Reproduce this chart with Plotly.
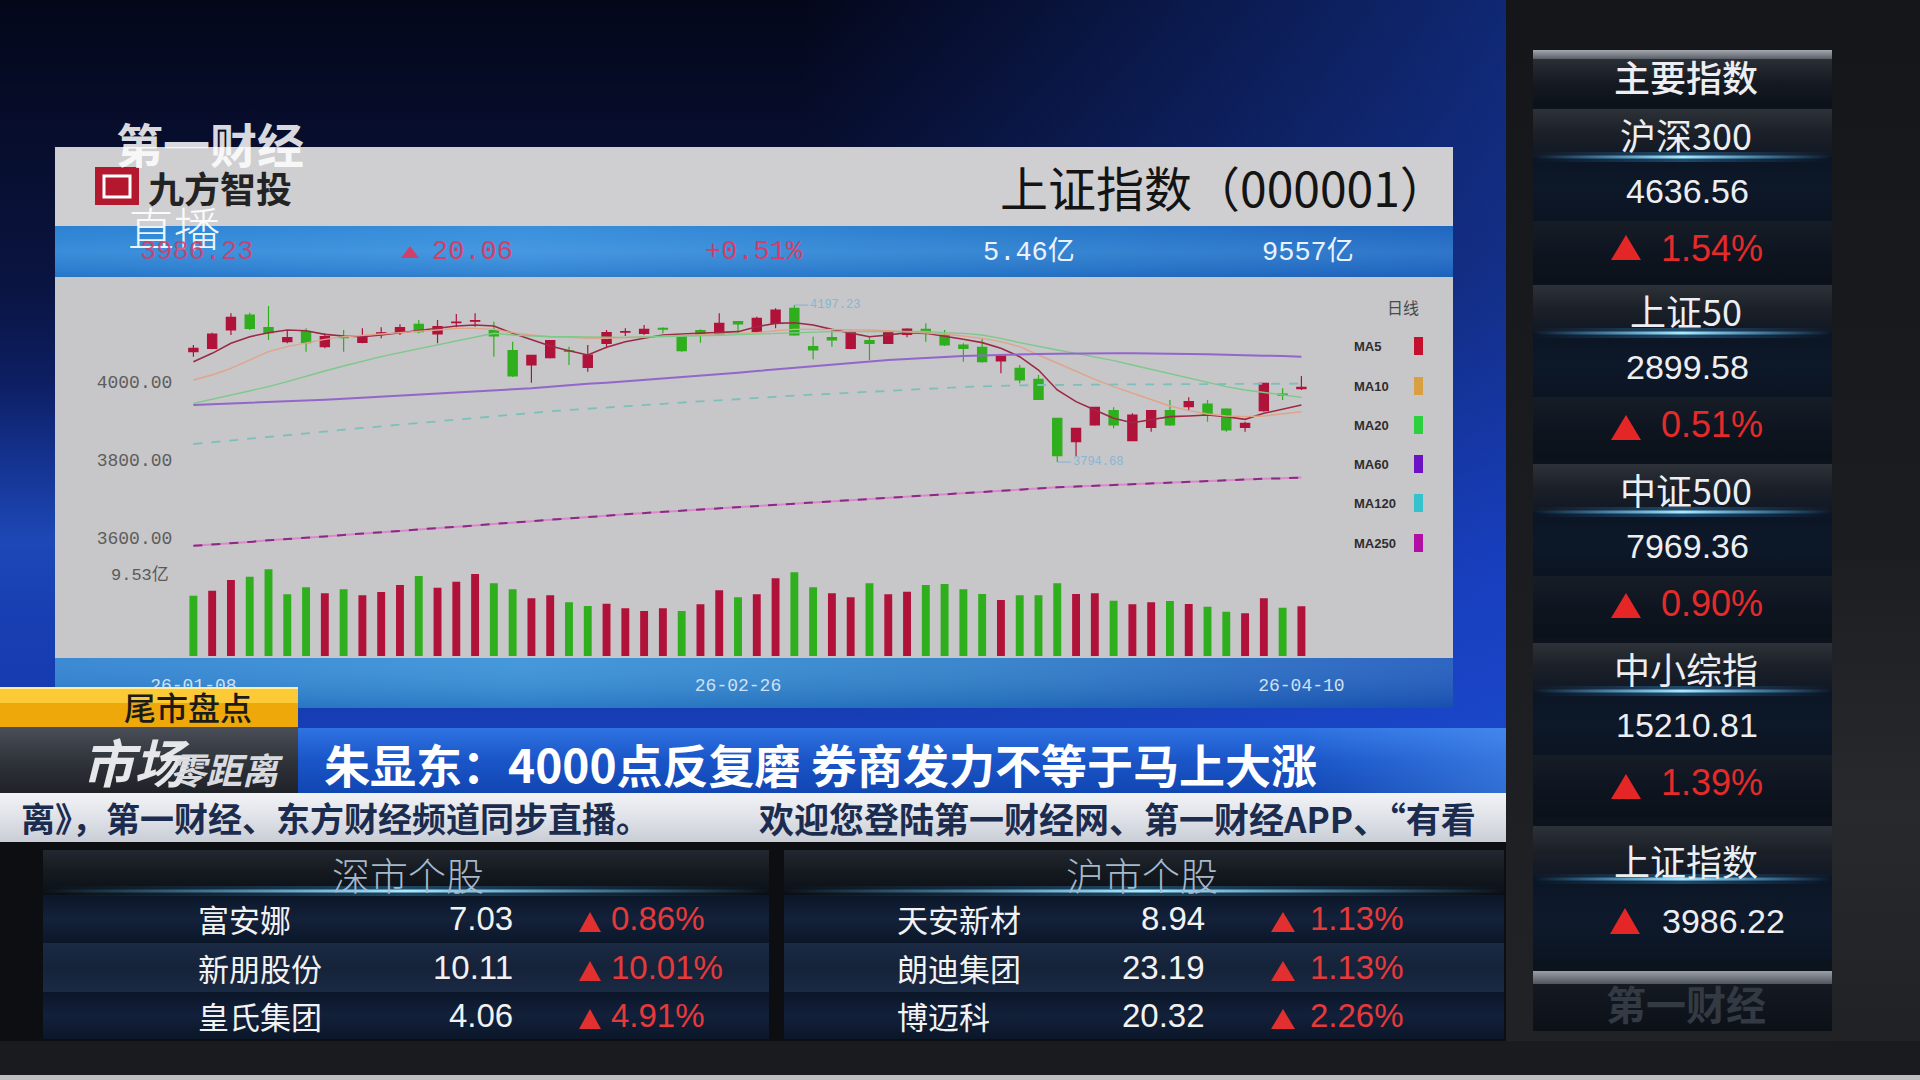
import plotly.graph_objects as go

W, H = 1920, 1080
CJK = "Noto Sans CJK SC"
SANS = "Liberation Sans, Noto Sans CJK SC"
MONO = "Liberation Mono, Noto Sans CJK SC"

# ---------------- daily K-line data: 上证指数 (000001) ----------------
day_idx = list(range(60))
date_ticks = [0, 29, 59]
date_labels = ["26-01-08", "26-02-26", "26-04-10"]

open_ = [4077.8, 4086.3, 4133.4, 4171.8, 4139.3, 4103.4, 4129.1, 4090.6, 4115.5, 4101.7,
         4124.0, 4127.4, 4147.9, 4123.1, 4152.0, 4156.0, 4131.6, 4080.3, 4043.6, 4062.4,
         4080.0, 4037.6, 4099.1, 4128.0, 4124.8, 4137.5, 4118.8, 4131.6, 4123.1, 4154.7,
         4129.1, 4150.4, 4188.9, 4090.6, 4113.7, 4086.3, 4106.0, 4099.1, 4122.2, 4135.0,
         4120.5, 4094.9, 4088.9, 4053.9, 4035.0, 4006.8, 3906.8, 3847.0, 3889.7, 3926.5,
         3849.6, 3883.8, 3926.5, 3936.8, 3943.6, 3930.8, 3883.8, 3926.5, 3969.2, 3983.0]
high = [4094.9, 4126.0, 4176.1, 4177.8, 4194.9, 4133.4, 4137.6, 4124.8, 4133.4, 4137.6,
        4140.2, 4147.9, 4159.0, 4159.0, 4174.4, 4176.1, 4154.7, 4103.4, 4069.5, 4108.0,
        4090.6, 4094.9, 4133.4, 4137.6, 4146.2, 4140.2, 4123.1, 4135.0, 4176.1, 4155.5,
        4167.5, 4188.9, 4197.23, 4116.2, 4135.0, 4131.6, 4116.2, 4129.1, 4137.6, 4150.4,
        4133.4, 4099.1, 4112.0, 4069.2, 4043.6, 4017.9, 3907.0, 3882.0, 3936.8, 3935.0,
        3919.6, 3927.5, 3953.9, 3960.7, 3953.9, 3932.5, 3898.3, 3998.3, 3983.8, 4015.4]
low = [4065.0, 4084.0, 4120.5, 4133.4, 4107.7, 4099.1, 4077.8, 4086.3, 4077.8, 4099.1,
       4112.0, 4120.5, 4124.8, 4099.1, 4140.2, 4141.9, 4065.0, 4013.0, 3998.3, 4060.0,
       4043.6, 4026.5, 4086.3, 4118.0, 4120.5, 4124.8, 4077.8, 4100.8, 4120.5, 4124.8,
       4126.5, 4137.6, 4118.8, 4058.1, 4090.6, 4083.8, 4056.4, 4097.4, 4114.5, 4103.4,
       4092.3, 4052.1, 4049.6, 4022.2, 3996.6, 3954.0, 3794.68, 3808.6, 3888.0, 3881.2,
       3848.0, 3872.7, 3887.2, 3928.2, 3898.3, 3872.7, 3872.7, 3924.0, 3953.9, 3979.5]
close = [4086.3, 4123.1, 4165.8, 4137.6, 4126.5, 4113.7, 4100.9, 4116.2, 4114.0, 4117.9,
         4126.0, 4139.3, 4129.1, 4141.9, 4153.5, 4157.6, 4117.9, 4015.4, 4068.4, 4106.0,
         4078.5, 4069.2, 4126.5, 4129.5, 4135.0, 4135.8, 4080.3, 4120.5, 4150.4, 4148.7,
         4163.3, 4184.6, 4120.5, 4082.1, 4107.7, 4129.1, 4099.1, 4126.5, 4135.9, 4124.8,
         4094.9, 4086.3, 4052.1, 4066.7, 4005.1, 3955.6, 3811.1, 3881.2, 3935.0, 3889.7,
         3915.4, 3926.5, 3889.7, 3949.6, 3915.4, 3876.9, 3894.1, 3996.6, 3966.17, 3986.23]
prev_close = 4090.0  # close of the session before the first bar

volume = [6.63, 7.18, 8.35, 8.72, 9.53, 6.78, 7.55, 6.89, 7.33, 6.67,
          7.03, 7.80, 8.79, 7.51, 8.17, 9.01, 7.99, 7.33, 6.34, 6.67,
          5.90, 5.49, 5.75, 5.24, 4.95, 5.24, 4.95, 5.68, 7.22, 6.45,
          6.78, 8.54, 9.20, 7.55, 6.89, 6.45, 7.99, 6.78, 7.07, 7.80,
          7.91, 7.33, 6.81, 6.15, 6.67, 6.67, 7.99, 6.81, 6.89, 6.08,
          5.68, 5.90, 6.04, 5.71, 5.42, 4.87, 4.69, 6.34, 5.31, 5.46]

ma5 = [4052.1, 4073.5, 4099.2, 4116.2, 4126.5, 4133.3, 4131.6, 4122.2, 4118.0, 4116.2,
       4120.5, 4126.5, 4133.3, 4137.6, 4143.6, 4146.2, 4143.6, 4124.8, 4107.7, 4092.3,
       4080.3, 4069.2, 4088.9, 4103.4, 4112.0, 4120.5, 4123.1, 4124.8, 4126.5, 4129.1,
       4141.9, 4150.4, 4152.1, 4146.2, 4135.0, 4124.8, 4116.2, 4120.5, 4126.5, 4124.8,
       4118.0, 4109.4, 4100.9, 4086.3, 4065.0, 4030.8, 3979.5, 3949.6, 3928.2, 3906.8,
       3895.7, 3902.6, 3911.1, 3912.8, 3915.4, 3911.1, 3904.3, 3919.7, 3929.9, 3941.0]
ma10 = [4005.1, 4018.0, 4035.0, 4056.4, 4077.8, 4090.6, 4100.9, 4109.4, 4116.2, 4120.5,
        4123.1, 4126.5, 4129.1, 4133.3, 4137.6, 4137.6, 4135.0, 4126.5, 4120.5, 4116.2,
        4114.5, 4112.0, 4112.0, 4113.7, 4116.2, 4118.0, 4120.5, 4120.5, 4123.1, 4124.8,
        4126.5, 4131.6, 4135.0, 4135.0, 4135.0, 4135.0, 4133.3, 4131.6, 4129.1, 4126.5,
        4123.1, 4118.0, 4112.0, 4103.4, 4090.6, 4069.2, 4047.9, 4026.5, 4006.8, 3988.0,
        3970.9, 3953.9, 3938.5, 3926.5, 3917.9, 3912.8, 3911.1, 3912.8, 3918.0, 3923.9]
ma20 = [3945.3, 3955.6, 3966.7, 3977.8, 3988.0, 4000.9, 4015.4, 4028.2, 4041.0, 4053.8,
        4065.0, 4075.2, 4085.5, 4094.9, 4106.0, 4114.5, 4124.8, 4120.5, 4118.0, 4116.2,
        4116.2, 4115.4, 4114.5, 4114.5, 4115.4, 4116.2, 4116.2, 4118.0, 4119.7, 4121.4,
        4123.1, 4124.8, 4126.5, 4128.2, 4129.1, 4129.1, 4129.1, 4129.9, 4129.9, 4129.9,
        4126.5, 4124.8, 4120.5, 4112.0, 4100.9, 4090.6, 4082.1, 4073.5, 4065.0, 4054.7,
        4043.6, 4032.5, 4020.5, 4009.4, 3998.3, 3988.0, 3979.5, 3972.6, 3966.7, 3960.7]
ma60 = [3941.0, 3942.7, 3944.4, 3946.2, 3947.9, 3950.4, 3952.1, 3954.7, 3957.3, 3959.8,
        3962.4, 3965.0, 3967.5, 3970.1, 3972.6, 3975.2, 3978.6, 3981.2, 3983.8, 3988.0,
        3992.3, 3995.7, 3998.3, 4001.7, 4005.1, 4009.4, 4012.8, 4016.2, 4020.5, 4023.9,
        4028.2, 4032.5, 4036.8, 4041.0, 4045.3, 4048.7, 4053.0, 4056.4, 4059.0, 4060.7,
        4064.1, 4066.7, 4068.4, 4070.1, 4070.9, 4071.8, 4072.7, 4073.5, 4073.5, 4073.5,
        4073.5, 4073.5, 4072.7, 4071.8, 4070.9, 4069.2, 4068.4, 4067.5, 4066.7, 4065.0]
ma120 = [3841.0, 3845.3, 3849.6, 3853.8, 3859.0, 3863.2, 3868.4, 3872.7, 3877.8, 3882.1,
         3886.3, 3891.5, 3895.7, 3900.0, 3904.3, 3908.5, 3912.8, 3917.1, 3921.4, 3924.8,
         3928.2, 3931.6, 3935.1, 3937.6, 3941.0, 3944.4, 3947.0, 3950.4, 3953.0, 3956.4,
         3959.0, 3962.4, 3965.0, 3967.5, 3970.1, 3972.6, 3975.2, 3977.8, 3980.3, 3982.9,
         3985.5, 3987.2, 3988.9, 3990.6, 3991.5, 3992.3, 3992.3, 3993.2, 3993.2, 3993.2,
         3994.0, 3994.0, 3994.0, 3994.0, 3994.9, 3994.9, 3994.9, 3994.9, 3995.7, 3995.7]
ma250 = [3580, 3583, 3587, 3590, 3594, 3597, 3601, 3604, 3608, 3611,
         3615, 3618, 3622, 3625, 3629, 3632, 3636, 3639, 3643, 3647,
         3650, 3654, 3657, 3661, 3664, 3668, 3671, 3674, 3677, 3680,
         3683, 3686, 3689, 3692, 3695, 3698, 3701, 3704, 3707, 3710,
         3713, 3716, 3719, 3722, 3725, 3728, 3730, 3732, 3734, 3737,
         3739, 3741, 3743, 3745, 3747, 3748, 3750, 3752, 3753, 3755]

price_ticks = [3600, 3800, 4000]
price_tick_labels = ["3600.00", "3800.00", "4000.00"]
vol_max_label = "9.53亿"
max_label, min_label = "4197.23", "3794.68"

quote_last, quote_chg, quote_pct = "3986.23", "20.06", "+0.51%"
quote_vol, quote_amt = "5.46亿", "9557亿"

ma_names = ["MA5", "MA10", "MA20", "MA60", "MA120", "MA250"]
ma_key_colors = ["#c4102c", "#d9a041", "#2fd040", "#6c12c4", "#34c2cc", "#b10fa3"]

# side board: major indices
idx_names = ["沪深300", "上证50", "中证500", "中小综指"]
idx_values = ["4636.56", "2899.58", "7969.36", "15210.81"]
idx_pcts = ["1.54%", "0.51%", "0.90%", "1.39%"]
sh_index_value = "3986.22"

# stock boards
sz_names = ["富安娜", "新朋股份", "皇氏集团"]
sz_prices = ["7.03", "10.11", "4.06"]
sz_pcts = ["0.86%", "10.01%", "4.91%"]
sh_names = ["天安新材", "朗迪集团", "博迈科"]
sh_prices = ["8.94", "23.19", "20.32"]
sh_pcts = ["1.13%", "1.13%", "2.26%"]

headline = "朱显东：4000点反复磨 券商发力不等于马上大涨"
ticker_a = "离》，第一财经、东方财经频道同步直播。"
ticker_b = "欢迎您登陆第一财经网、第一财经APP、“有看"

RED = "#b0123a"
GREEN = "#2fae1e"

# ---------------- helpers ----------------
traces = []
shapes = []
anns = []


def rect(x0, y0, x1, y1, color=None, grad=None, gtype="vertical"):
    kw = dict(x=[x0, x1, x1, x0, x0], y=[y0, y0, y1, y1, y0], mode="none",
              fill="toself", hoverinfo="skip", showlegend=False,
              xaxis="x", yaxis="y")
    if grad:
        n = len(grad) - 1
        cs = [[i / n, c] for i, c in enumerate(grad)]
        if gtype == "vertical":
            kw["fillgradient"] = dict(type="vertical", colorscale=cs, start=y0, stop=y1)
        else:
            kw["fillgradient"] = dict(type="horizontal", colorscale=cs, start=x0, stop=x1)
    else:
        kw["fillcolor"] = color
    traces.append(go.Scatter(**kw))


def box(x0, y0, x1, y1, color, line=None, lw=0):
    shapes.append(dict(type="rect", xref="x", yref="y", x0=x0, y0=y0, x1=x1, y1=y1,
                       fillcolor=color, layer="above",
                       line=dict(width=lw, color=line or color)))


def tri(cx, top, bottom, half, color):
    shapes.append(dict(type="path", xref="x", yref="y", layer="above",
                       path=f"M {cx-half},{bottom} L {cx},{top} L {cx+half},{bottom} Z",
                       fillcolor=color, line=dict(width=0)))


def T(x, y, s, size, color, family=CJK, xa="center", weight="normal", style="normal", opacity=1.0):
    anns.append(dict(x=x, y=y, xref="x", yref="y", text=s, showarrow=False,
                     xanchor=xa, yanchor="middle", opacity=opacity,
                     font=dict(size=size, color=color, family=family, weight=weight, style=style)))


def glow(x0, x1, y):
    rect(x0, y - 5, x1, y + 5, grad=["rgba(40,140,220,0)", "rgba(60,170,240,0.35)", "rgba(40,140,220,0)"], gtype="horizontal")
    rect(x0, y - 1.5, x1, y + 1.5, grad=["rgba(80,190,255,0)", "rgba(170,235,255,1)", "rgba(80,190,255,0)"], gtype="horizontal")


# ---------------- broadcast background ----------------
rect(0, 0, 1506, 842, grad=["#04071a", "#0a1440", "#1230a0", "#1a48c4"])
rect(800, 0, 1506, 842, grad=["rgba(30,80,220,0)", "rgba(30,80,225,0.45)"], gtype="horizontal")
rect(0, 380, 55, 700, grad=["rgba(40,100,220,0)", "rgba(50,120,235,0.35)", "rgba(40,100,220,0)"])
rect(1506, 0, 1920, 1080, grad=["#151619", "#1b1c1f", "#222326"])
rect(1832, 560, 1920, 1060, grad=["#1d1e21", "#28292d", "#202124"])

# chart panel
rect(55, 147, 1453, 708, "#c7c6c8")
rect(55, 147, 1453, 226, "#cfcfd1")
rect(55, 226, 1453, 277, grad=["#2c82d2", "#3a90dc", "#2a7ccc", "#1f66c0"], gtype="horizontal")
rect(55, 226, 1453, 277, grad=["rgba(120,190,245,0.0)", "rgba(120,190,245,0.18)", "rgba(20,80,170,0.25)"])
rect(55, 658, 1453, 708, grad=["#2b80d0", "#3590d8", "#2a7cc8", "#1c58bc"], gtype="horizontal")
rect(55, 658, 1453, 708, grad=["rgba(255,255,255,0.08)", "rgba(0,40,120,0.2)"])

# lower third
rect(0, 727, 298, 793, grad=["#4a4f58", "#30343b", "#1f2227"])
rect(298, 728, 1506, 793, grad=["#2f73e2", "#1a55c8", "#1146b2"])
rect(1300, 728, 1506, 793, grad=["rgba(90,160,250,0)", "rgba(90,160,250,0.45)"], gtype="horizontal")
rect(0, 793, 1506, 842, grad=["#f2f3f6", "#dfe2e8", "#c9cdd5"])

# stock boards
rect(0, 842, 1506, 1041, "#0c0e12")
for bx0, bx1 in [(43, 769), (784, 1504)]:
    rect(bx0, 850, bx1, 893, grad=["#23272f", "#151920", "#0c1118"])
    rect(bx0, 895, bx1, 943, grad=["#0b1628", "#13213a", "#0b1628"])
    rect(bx0, 943, bx1, 992, grad=["#1a2a43", "#152339", "#1a2a43"])
    rect(bx0, 992, bx1, 1039, grad=["#0b1628", "#12203a", "#0b1628"])
    glow(bx0, bx1, 891)
rect(0, 1041, 1920, 1075, "#1a1b1e")
rect(0, 1075, 1920, 1080, "#bfbfbf")

# right-hand index board
rect(1533, 50, 1832, 1031, "#0d131d")
rect(1533, 50, 1832, 59, grad=["#a3a8b0", "#5a5f67"])
rect(1533, 59, 1832, 107, grad=["#2a2e35", "#151a22", "#0b111a"])
group_tops = [107, 283, 462, 641]
for gt in group_tops:
    rect(1533, gt + 2, 1832, gt + 50, grad=["#2d3138", "#1b2028", "#111824"])
    rect(1533, gt + 50, 1832, gt + 114, grad=["#0b1524", "#0d1829", "#0b1422"])
    rect(1533, gt + 114, 1832, gt + 176, grad=["#171d27", "#0e1520", "#0b111a"])
    glow(1533, 1832, gt + 50)
rect(1533, 826, 1832, 877, grad=["#2d3138", "#1b2028", "#111824"])
rect(1533, 877, 1832, 961, grad=["#0b1524", "#0e1a2c", "#0b1422"])
glow(1533, 1832, 879)
rect(1533, 971, 1832, 984, grad=["#9aa0a8", "#50555d"])
rect(1533, 984, 1832, 1031, grad=["#141922", "#0c1118"])

# ---------------- K-line chart ----------------
traces.append(go.Candlestick(
    x=day_idx, open=open_, high=high, low=low, close=close,
    xaxis="x2", yaxis="y2", whiskerwidth=0, hoverinfo="skip", showlegend=False,
    increasing=dict(line=dict(color=RED, width=1.2), fillcolor=RED),
    decreasing=dict(line=dict(color=GREEN, width=1.2), fillcolor=GREEN),
))

ma_styles = [
    (ma5, "#9c2a44", 1.6, "solid"),
    (ma10, "#e0a48a", 1.4, "solid"),
    (ma20, "#7cc98a", 1.4, "solid"),
    (ma60, "#9366cc", 2.0, "solid"),
    (ma120, "#7cc0bc", 1.8, "dash"),
    (ma250, "#d98ac8", 2.0, "solid"),
    (ma250, "#8a2a84", 2.0, "dash"),
]
for series, col, wd, dash in ma_styles:
    traces.append(go.Scatter(x=day_idx, y=series, mode="lines", xaxis="x2", yaxis="y2",
                             line=dict(color=col, width=wd, dash=dash),
                             hoverinfo="skip", showlegend=False))

# volume bars coloured by close versus the previous close
prior = [prev_close] + close[:-1]
vol_colors = [RED if c >= p else GREEN for c, p in zip(close, prior)]
traces.append(go.Bar(x=day_idx, y=volume, marker=dict(color=vol_colors, line=dict(width=0)),
                     width=0.42, xaxis="x3", yaxis="y3", hoverinfo="skip", showlegend=False))

# extreme-value markers
imax = high.index(max(high))
imin = low.index(min(low))
for i, yv, txt in [(imax, high[imax], max_label), (imin, low[imin], min_label)]:
    anns.append(dict(x=i, y=yv, xref="x2", yref="y2", text=txt, showarrow=True,
                     arrowhead=0, arrowwidth=1, arrowcolor="#7fb4d6", ax=14, ay=0,
                     xanchor="left", yanchor="middle",
                     font=dict(size=12, color="#86b6d4", family=MONO)))

# ---------------- overlay shapes ----------------
# 九方智投 icon
box(95, 167, 139, 205, "#b3182e")
shapes.append(dict(type="rect", xref="x", yref="y", x0=104, y0=176, x1=130, y1=197,
                   line=dict(color="white", width=3), fillcolor="rgba(0,0,0,0)", layer="above"))
# MA key swatches
key_ys = [346, 386, 425, 464, 503, 543]
for yk, col in zip(key_ys, ma_key_colors):
    box(1414, yk - 9, 1423, yk + 9, col)
# 尾市盘点 tab
box(0, 687, 298, 727, "#eea80a")
box(0, 687, 298, 703, "rgba(255,214,70,0.75)")
box(0, 687, 298, 689, "rgba(255,240,170,0.9)")

# triangles
tri(410, 246, 258, 9, "#d2406a")
for k in range(4):
    ty = [248, 428, 606, 787][k]
    tri(1626, ty - 13, ty + 12, 15, "#e52626")
tri(1625, 908, 934, 15, "#e52626")
for ry in [918, 967, 1015]:
    tri(590, ry - 6, ry + 14, 11, "#e23030")
    tri(1283, ry - 6, ry + 14, 12, "#e23030")

# ---------------- text ----------------
# watermark
T(210, 142, "第一财经", 47, "rgba(255,255,255,0.85)", weight="bold")
T(174, 226, "直播", 46, "rgba(255,255,255,0.92)", weight=300)

# panel header
T(146, 187, "九方智投", 36, "#232323", weight="bold", xa="left")
T(1450, 186, "上证指数（000001）", 48, "#141414", xa="right")

# quote band
T(196, 252, quote_last, 27, "rgba(214,60,100,0.85)", family=MONO)
T(430, 252, quote_chg, 27, "#d2406a", family=MONO, xa="left")
T(754, 252, quote_pct, 27, "#d2406a", family=MONO)
T(1029, 252, quote_vol, 27, "#eaf2ff", family=MONO)
T(1308, 252, quote_amt, 27, "#eaf2ff", family=MONO)

# chart annotations
T(171, 575, vol_max_label, 17, "#5a5a5a", family=MONO, xa="right")
T(1403, 307, "日线", 16, "#4a4a4a")
for yk, nm in zip(key_ys, ma_names):
    T(1352, yk, nm, 13, "#2e2e2e", family=SANS, xa="left", weight="bold")

# lower third
T(188, 706, "尾市盘点", 32, "#1b1b1b", weight=500)
T(80, 760, "市场", 52, "#e6e7ea", weight="bold", style="italic", xa="left")
T(168, 768, "零距离", 36, "#d8dadf", weight="bold", style="italic", xa="left")
T(322, 763, headline, 46, "#ffffff", weight="bold", xa="left")
T(652, 817, ticker_a, 34, "#1c2c4e", weight="bold", xa="right")
T(757, 817, ticker_b, 35, "#1c2c4e", weight="bold", xa="left")

# stock boards
T(408, 873, "深市个股", 38, "#a6b9cb", weight=300)
T(1142, 873, "沪市个股", 38, "#a6b9cb", weight=300)
for k, ry in enumerate([918, 967, 1015]):
    T(196, ry, sz_names[k], 31, "#f2f2f2", xa="left")
    T(515, ry, sz_prices[k], 33, "#f2f2f2", family=SANS, xa="right")
    T(609, ry, sz_pcts[k], 33, "#e63a3a", family=SANS, xa="left")
    T(895, ry, sh_names[k], 31, "#f2f2f2", xa="left")
    T(1207, ry, sh_prices[k], 33, "#f2f2f2", family=SANS, xa="right")
    T(1308, ry, sh_pcts[k], 33, "#e63a3a", family=SANS, xa="left")

# index board
T(1686, 76, "主要指数", 36, "#eceef2", weight=500)
for k, gt in enumerate(group_tops):
    T(1686, gt + 27, idx_names[k], 36, "#eceef2")
    T(1687, gt + 84, idx_values[k], 34, "#eceef2", family=SANS)
    T(1659, gt + 141, idx_pcts[k], 36, "#e52a2a", family=SANS, xa="left")
T(1686, 860, "上证指数", 36, "#eceef2")
T(1660, 921, sh_index_value, 34, "#eceef2", family=SANS, xa="left")
T(1686, 1003, "第一财经", 40, "#343a44", weight="bold")

# ---------------- layout ----------------
px_x = lambda v: v / W
px_y = lambda v: 1 - v / H
x_dom = [px_x(179.3), px_x(1315.5)]
x_rng = [-0.75, 59.75]

fig = go.Figure(data=traces)
fig.update_layout(
    width=W, height=H, margin=dict(l=0, r=0, t=0, b=0, pad=0, autoexpand=False),
    paper_bgcolor="#0a0f2a", plot_bgcolor="rgba(0,0,0,0)",
    showlegend=False, hovermode=False, dragmode=False,
    xaxis=dict(domain=[0, 1], range=[0, W], visible=False, fixedrange=True, automargin=False),
    yaxis=dict(domain=[0, 1], range=[H, 0], visible=False, fixedrange=True, automargin=False),
    xaxis2=dict(domain=x_dom, range=x_rng, anchor="y2", visible=False, automargin=False,
                rangeslider=dict(visible=False), fixedrange=True),
    yaxis2=dict(domain=[px_y(552), px_y(290)], range=[3564.1, 4235.9], anchor="x2",
                tickvals=price_ticks, ticktext=price_tick_labels, showgrid=False,
                zeroline=False, showline=False, ticks="", ticklabelstandoff=6,
                automargin=False,
                tickfont=dict(family=MONO, size=18, color="#5d5d5d"), fixedrange=True),
    xaxis3=dict(domain=x_dom, range=x_rng, anchor="y3", tickvals=date_ticks,
                ticktext=date_labels, showgrid=False, zeroline=False, showline=False,
                ticks="", ticklabelstandoff=16, automargin=False,
                tickfont=dict(family=MONO, size=18, color="#cfe0f2"), fixedrange=True),
    yaxis3=dict(domain=[px_y(656), px_y(560)], range=[0, 10.55], anchor="x3",
                visible=False, fixedrange=True, automargin=False),
    shapes=shapes, annotations=anns,
)
fig.write_html("out.html")
